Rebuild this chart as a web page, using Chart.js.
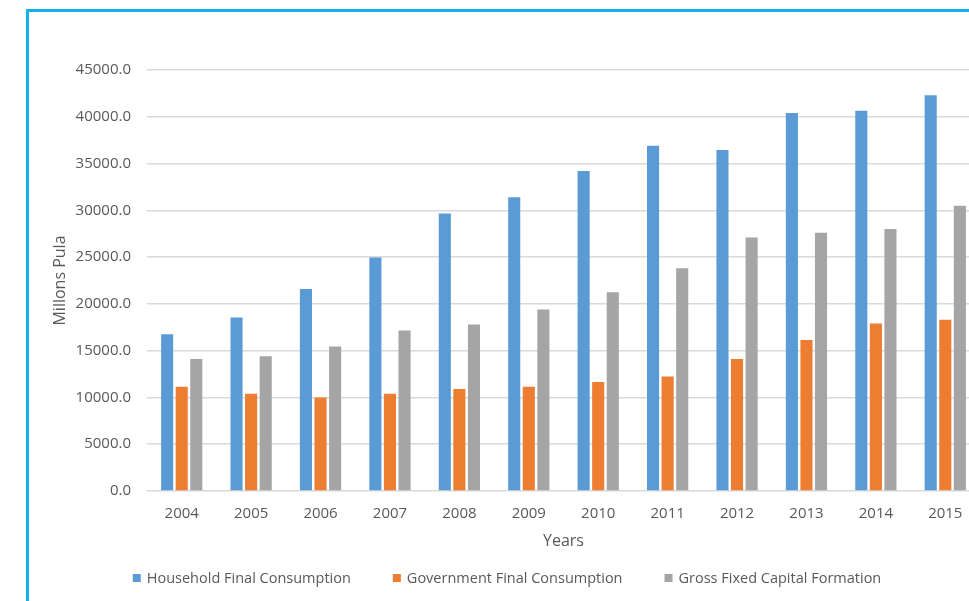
<!DOCTYPE html>
<html>
<head>
<meta charset="utf-8">
<script src="https://cdn.jsdelivr.net/npm/chart.js@4/dist/chart.umd.min.js"></script>
<style>
  html, body { margin: 0; padding: 0; background: #ffffff; overflow: hidden; width: 969px; height: 601px; }
  #frame { position: absolute; left: 26px; top: 9px; width: 960px; height: 600px;
           border-left: 3px solid #13b0ee; border-top: 3px solid #13b0ee; }
  #wrap { position: absolute; left: 0; top: 0; width: 1000px; height: 601px; }
</style>
</head>
<body>
<div id="frame"></div>
<div id="wrap"><canvas id="chart" width="1000" height="601"></canvas></div>
<script>
const years = ['2004','2005','2006','2007','2008','2009','2010','2011','2012','2013','2014','2015'];
const household = [16750, 18550, 21600, 24950, 29650, 31400, 34200, 36900, 36450, 40400, 40650, 42300];
const government = [11150, 10400, 10000, 10400, 10900, 11150, 11650, 12250, 14100, 16150, 17900, 18300];
const grossCapital = [14100, 14400, 15450, 17150, 17800, 19400, 21250, 23800, 27100, 27600, 28000, 30500];
const seriesNames = ['Household Final Consumption', 'Government Final Consumption', 'Gross Fixed Capital Formation'];

const textColor = '#595959';
const fontFamily = "'Open Sans', 'Noto Sans', sans-serif";

// Single-row legend under the axis title, with wide spacing between entries
const bottomLegend = {
  id: 'bottomLegend',
  afterDraw(chart, args, opts) {
    const ctx = chart.ctx;
    ctx.save();
    ctx.font = `${opts.fontSize}px ${fontFamily}`;
    ctx.textBaseline = 'middle';
    ctx.textAlign = 'left';
    const items = chart.data.datasets.map(ds => ({
      text: ds.label, color: ds.backgroundColor, w: ctx.measureText(ds.label).width
    }));
    const itemWidth = it => opts.box + opts.textGap + it.w;
    const total = items.reduce((s, it) => s + itemWidth(it), 0) + opts.itemGap * (items.length - 1);
    let x = opts.centerX - total / 2;
    const y = opts.y;
    items.forEach(it => {
      ctx.fillStyle = it.color;
      ctx.fillRect(x, y - opts.box / 2, opts.box, opts.box);
      ctx.fillStyle = textColor;
      ctx.fillText(it.text, x + opts.box + opts.textGap, y + 0.5);
      x += itemWidth(it) + opts.itemGap;
    });
    ctx.restore();
  }
};

new Chart(document.getElementById('chart'), {
  type: 'bar',
  data: {
    labels: years,
    datasets: [
      { label: seriesNames[0], data: household, backgroundColor: '#5b9bd5' },
      { label: seriesNames[1], data: government, backgroundColor: '#ed7d31' },
      { label: seriesNames[2], data: grossCapital, backgroundColor: '#a5a5a5' }
    ]
  },
  plugins: [bottomLegend],
  options: {
    responsive: false,
    animation: false,
    devicePixelRatio: 1,
    categoryPercentage: 0.63,
    barPercentage: 0.83,
    layout: { padding: { left: 34, right: 20, top: 70, bottom: 56 } },
    plugins: {
      tooltip: { enabled: false },
      legend: { display: false },
      bottomLegend: { centerX: 507, y: 578, fontSize: 14.5, box: 8, textGap: 6, itemGap: 42 }
    },
    scales: {
      x: {
        grid: { display: false, drawTicks: false },
        border: { display: false },
        ticks: { color: textColor, padding: 14, font: { family: fontFamily, size: 15 } },
        title: { display: true, text: 'Years', color: textColor, padding: { top: 0, bottom: 0 },
                 font: { family: fontFamily, size: 16, lineHeight: 0.5 } }
      },
      y: {
        min: 0, max: 45000,
        afterFit: (scale) => { scale.width = 113; },
        grid: { color: '#d9d9d9', lineWidth: 1.5, drawTicks: false },
        border: { display: false },
        ticks: {
          stepSize: 5000, padding: 16, color: textColor,
          font: { family: fontFamily, size: 15 },
          callback: (v) => Number(v).toFixed(1)
        },
        title: { display: true, text: 'Millons Pula', color: textColor, padding: { top: 17, bottom: 0 },
                 font: { family: fontFamily, size: 16 } }
      }
    }
  }
});
</script>
</body>
</html>
